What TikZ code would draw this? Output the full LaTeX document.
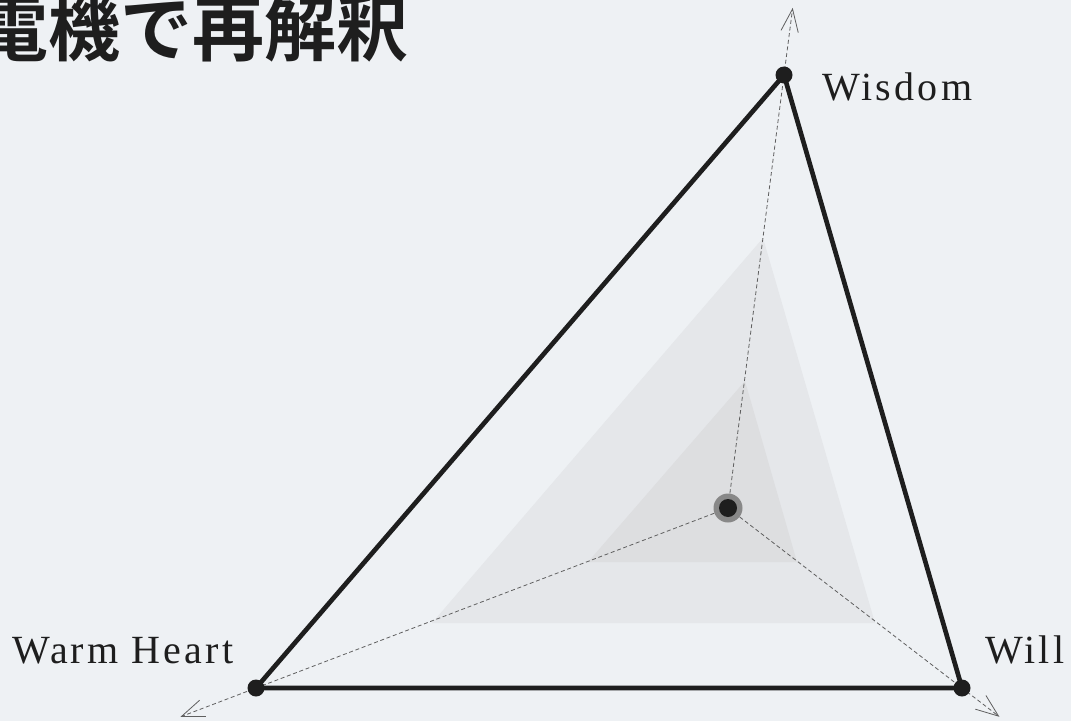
\documentclass[tikz,border=0pt]{standalone}
\usepackage{fontspec}
\usetikzlibrary{calc,arrows.meta}
\newfontfamily\cjk{Noto Sans CJK JP}[BoldFont={Noto Sans CJK JP Bold}]
\newfontfamily\lblfont{Liberation Serif}[LetterSpace=8]
\definecolor{bgcol}{RGB}{238,241,244}
\definecolor{ink}{RGB}{30,30,30}
\definecolor{shadeout}{RGB}{229,231,234}
\definecolor{shadein}{RGB}{221,222,224}
\definecolor{ringcol}{RGB}{136,136,136}
\definecolor{axiscol}{RGB}{95,95,95}
\tikzset{
 vdot/.style={circle,fill=ink,inner sep=0pt,minimum size=12.75pt},
 axisline/.style={axiscol,line width=0.6pt,dash pattern=on 3pt off 2pt,-{Straight Barb[length=17pt,width=13pt]}},
 lbl/.style={anchor=base west,inner sep=0pt,text=ink,font=\lblfont\fontsize{30}{36}\selectfont}
}
\begin{document}
\begin{tikzpicture}[x=0.75pt,y=-0.75pt]
 \useasboundingbox (0,0) rectangle (1071,721);
 \clip (0,0) rectangle (1071,721);
 \fill[bgcol] (0,0) rectangle (1071,721);
 \node[anchor=base west,inner sep=0pt,text=ink,font=\cjk\bfseries\fontsize{54}{60}\selectfont] (title) at (-24,55) {電機で再解釈};
 \fill[shadeout] (763,238)--(432,623)--(875,623)--cycle;
 \fill[shadein] (745,381)--(588,562)--(797,562)--cycle;
 \node[circle,fill=ringcol,inner sep=0pt,minimum size=21.75pt] (ctr) at (728,508) {};
 \coordinate (wispos) at (784,75);
 \coordinate (wrmpos) at (256,688);
 \coordinate (wilpos) at (962,688);
 \coordinate (wisend) at ($(ctr)!1.155!(wispos)$);
 \coordinate (wrmend) at ($(ctr)!1.16!(wrmpos)$);
 \coordinate (wilend) at ($(ctr)!1.16!(wilpos)$);
 \draw[axisline] (ctr) -- (wisend);
 \draw[axisline] (ctr) -- (wrmend);
 \draw[axisline] (ctr) -- (wilend);
 \draw[ink,line width=3.5pt,line join=round] (wispos)--(wilpos)--(wrmpos)--cycle;
 \node[vdot] (wis) at (wispos) {};
 \node[vdot] (wrm) at (wrmpos) {};
 \node[vdot] (wil) at (wilpos) {};
 \fill[ink] (ctr) circle (6.75pt);
 \node[lbl] (wislbl) at (822,100) {Wisdom};
 \node[lbl] (wrmlbl) at (12,663) {Warm Heart};
 \node[lbl] (willbl) at (985,663) {Will};
\end{tikzpicture}
\end{document}
